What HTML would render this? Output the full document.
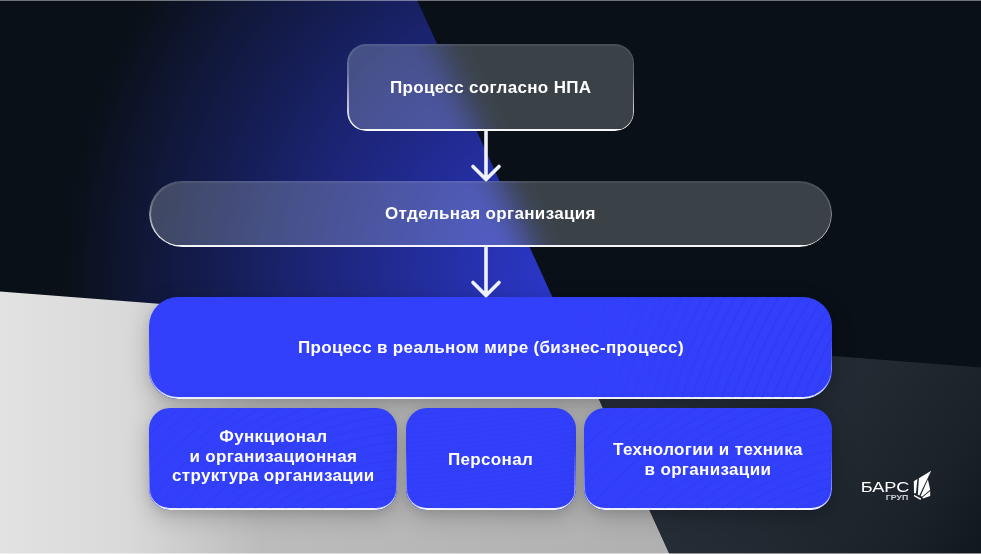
<!DOCTYPE html>
<html lang="ru">
<head>
<meta charset="utf-8">
<title>Процесс</title>
<style>
html,body{margin:0;padding:0;background:#0a1017;}
body{width:981px;height:554px;overflow:hidden;position:relative;font-family:"Liberation Sans",sans-serif;}
#bg{position:absolute;left:0;top:0;width:981px;height:554px;display:block;}
.box{position:absolute;box-sizing:border-box;display:flex;align-items:center;justify-content:center;text-align:center;color:#fff;font-weight:bold;font-size:17px;line-height:19.6px;letter-spacing:0.34px;}
.glass{background:none;}
.glass::after{content:"";position:absolute;inset:0;border-radius:inherit;padding:1.5px;background:linear-gradient(180deg,rgba(255,255,255,0.06) 0%,rgba(255,255,255,0.22) 35%,rgba(255,255,255,0.6) 65%,rgba(255,255,255,0.97) 100%);-webkit-mask:linear-gradient(#000 0 0) content-box,linear-gradient(#000 0 0);-webkit-mask-composite:xor;mask:linear-gradient(#000 0 0) content-box exclude,linear-gradient(#000 0 0);pointer-events:none;}
.blue{background:#3340fb;box-shadow:0 8px 24px rgba(0,0,0,0.18),0 3px 8px rgba(0,0,0,0.09);overflow:hidden;}
.blue::after{content:"";position:absolute;inset:0;border-radius:inherit;padding:1.2px 1.2px 1.9px 1.2px;background:linear-gradient(180deg,rgba(255,255,255,0) 0%,rgba(255,255,255,0) 40%,rgba(255,255,255,0.35) 75%,rgba(255,255,255,0.95) 100%);-webkit-mask:linear-gradient(#000 0 0) content-box,linear-gradient(#000 0 0);-webkit-mask-composite:xor;mask:linear-gradient(#000 0 0) content-box exclude,linear-gradient(#000 0 0);pointer-events:none;}
.pat{position:absolute;left:0;top:0;z-index:1;}
.box span{position:relative;z-index:2;display:block;will-change:transform;}
#b1{left:347px;top:44px;width:287px;height:86.8px;border-radius:19px;padding-top:1.6px;}
#b2{left:149px;top:181px;width:683px;height:65.5px;border-radius:33px;}
#b3{left:149px;top:296.8px;width:683px;height:102px;border-radius:29px;}
#b4{left:149px;top:408px;width:248px;height:102px;border-radius:21px;padding-bottom:5.4px;}
#b5{left:405.5px;top:408px;width:170px;height:102px;border-radius:21px;padding-top:2px;}
#b6{left:584px;top:408px;width:248px;height:102px;border-radius:21px;padding-top:1.6px;}
#arrows{position:absolute;left:0;top:0;width:981px;height:554px;pointer-events:none;will-change:transform;}
#logo{position:absolute;left:0;top:0;width:981px;height:554px;pointer-events:none;will-change:transform;}
</style>
</head>
<body>
<svg id="bg" width="981" height="554" viewBox="0 0 981 554">
  <defs>
    <radialGradient id="gBlue" gradientUnits="userSpaceOnUse" cx="580" cy="280" r="520">
      <stop offset="0.0000" stop-color="#2d39d1"/>
      <stop offset="0.0769" stop-color="#2a36c4"/>
      <stop offset="0.1538" stop-color="#2833b7"/>
      <stop offset="0.2308" stop-color="#2530aa"/>
      <stop offset="0.3077" stop-color="#232d9c"/>
      <stop offset="0.3846" stop-color="#202a8e"/>
      <stop offset="0.4615" stop-color="#1e2780"/>
      <stop offset="0.5385" stop-color="#1b2472"/>
      <stop offset="0.6154" stop-color="#182163"/>
      <stop offset="0.6923" stop-color="#151d54"/>
      <stop offset="0.7692" stop-color="#131a45"/>
      <stop offset="0.8462" stop-color="#101736"/>
      <stop offset="0.9231" stop-color="#0d1326"/>
      <stop offset="0.9615" stop-color="#0b121e"/>
      <stop offset="0.9942" stop-color="#0a1017"/>
      <stop offset="1.0000" stop-color="#0a1017"/>
    </radialGradient>
    <linearGradient id="gGrey" gradientUnits="userSpaceOnUse" x1="0" y1="0" x2="670" y2="0">
      <stop offset="0" stop-color="#e2e2e2"/>
      <stop offset="0.19" stop-color="#d9d9d9"/>
      <stop offset="0.39" stop-color="#bcbcbc"/>
      <stop offset="1" stop-color="#b0b0b0"/>
    </linearGradient>
    <linearGradient id="gDark" gradientUnits="userSpaceOnUse" x1="680" y1="360" x2="981" y2="554">
      <stop offset="0" stop-color="#28303a"/>
      <stop offset="0.5" stop-color="#212931"/>
      <stop offset="0.8" stop-color="#1a2129"/>
      <stop offset="1" stop-color="#11171e"/>
    </linearGradient>
    <filter id="fBlur" filterUnits="userSpaceOnUse" x="0" y="0" width="981" height="554" color-interpolation-filters="sRGB">
      <feGaussianBlur stdDeviation="16"/>
    </filter>
    <clipPath id="cpGlass">
      <rect x="347" y="44" width="287" height="86.8" rx="19" ry="19"/>
      <rect x="149" y="181" width="683" height="65.5" rx="32.75" ry="32.75"/>
    </clipPath>
  </defs>
  <g id="scene">
  <rect x="0" y="0" width="981" height="554" fill="#0a1017"/>
  <polygon points="0,0 417,0 570,335.7 0,291.4" fill="url(#gBlue)"/>
  <polygon points="0,291.4 570,335.7 669.5,554 0,554" fill="url(#gGrey)"/>
  <polygon points="570,335.7 981,367.6 981,554 669.5,554" fill="url(#gDark)"/>
  </g>
  <g clip-path="url(#cpGlass)">
    <use href="#scene" filter="url(#fBlur)"/>
    <rect x="140" y="40" width="700" height="210" fill="#f3feff" fill-opacity="0.21"/>
  </g>
  <rect x="0" y="0" width="981" height="1" fill="#fff" opacity="0.42"/>
  <rect x="0" y="553" width="981" height="1" fill="#fff" opacity="0.5"/>
</svg>

<div class="box glass" id="b1"><span>Процесс согласно НПА</span></div>
<div class="box glass" id="b2"><span>Отдельная организация</span></div>
<div class="box blue" id="b3"><svg class="pat" width="683" height="101" viewBox="0 0 683 101"><defs><linearGradient id="fd3" gradientUnits="userSpaceOnUse" x1="380" y1="0" x2="600" y2="0"><stop offset="0" stop-color="#fff" stop-opacity="0"/><stop offset="1" stop-color="#fff" stop-opacity="1"/></linearGradient><mask id="mk3"><rect width="683" height="101" fill="url(#fd3)"/></mask></defs><g fill="none" stroke="#1a22b8" stroke-opacity="0.15" stroke-width="1.3" mask="url(#mk3)"><circle cx="1112" cy="286" r="380"/><circle cx="1112" cy="286" r="389.5"/><circle cx="1112" cy="286" r="399"/><circle cx="1112" cy="286" r="408.5"/><circle cx="1112" cy="286" r="418"/><circle cx="1112" cy="286" r="427.5"/><circle cx="1112" cy="286" r="437"/><circle cx="1112" cy="286" r="446.5"/><circle cx="1112" cy="286" r="456"/><circle cx="1112" cy="286" r="465.5"/><circle cx="1112" cy="286" r="475"/><circle cx="1112" cy="286" r="484.5"/><circle cx="1112" cy="286" r="494"/><circle cx="1112" cy="286" r="503.5"/><circle cx="1112" cy="286" r="513"/><circle cx="1112" cy="286" r="522.5"/><circle cx="1112" cy="286" r="532"/><circle cx="1112" cy="286" r="541.5"/><circle cx="1112" cy="286" r="551"/><circle cx="1112" cy="286" r="560.5"/><circle cx="1112" cy="286" r="570"/><circle cx="1112" cy="286" r="579.5"/><circle cx="1112" cy="286" r="589"/><circle cx="1112" cy="286" r="598.5"/><circle cx="1112" cy="286" r="608"/><circle cx="1112" cy="286" r="617.5"/><circle cx="1112" cy="286" r="627"/><circle cx="1112" cy="286" r="636.5"/><circle cx="1112" cy="286" r="646"/><circle cx="1112" cy="286" r="655.5"/><circle cx="1112" cy="286" r="665"/><circle cx="1112" cy="286" r="674.5"/><circle cx="1112" cy="286" r="684"/><circle cx="1112" cy="286" r="693.5"/><circle cx="1112" cy="286" r="703"/><circle cx="1112" cy="286" r="712.5"/><circle cx="1112" cy="286" r="722"/><circle cx="1112" cy="286" r="731.5"/><circle cx="1112" cy="286" r="741"/><circle cx="1112" cy="286" r="750.5"/><circle cx="1112" cy="286" r="760"/></g></svg><span>Процесс в реальном мире (бизнес-процесс)</span></div>
<div class="box blue" id="b4"><svg class="pat" width="248" height="101" viewBox="0 0 248 101"><g fill="none" stroke="#1a22b8" stroke-opacity="0.13" stroke-width="1"><circle cx="270" cy="300" r="150"/><circle cx="270" cy="300" r="159"/><circle cx="270" cy="300" r="168"/><circle cx="270" cy="300" r="177"/><circle cx="270" cy="300" r="186"/><circle cx="270" cy="300" r="195"/><circle cx="270" cy="300" r="204"/><circle cx="270" cy="300" r="213"/><circle cx="270" cy="300" r="222"/><circle cx="270" cy="300" r="231"/><circle cx="270" cy="300" r="240"/><circle cx="270" cy="300" r="249"/><circle cx="270" cy="300" r="258"/><circle cx="270" cy="300" r="267"/><circle cx="270" cy="300" r="276"/><circle cx="270" cy="300" r="285"/><circle cx="270" cy="300" r="294"/><circle cx="270" cy="300" r="303"/><circle cx="270" cy="300" r="312"/><circle cx="270" cy="300" r="321"/><circle cx="270" cy="300" r="330"/><circle cx="270" cy="300" r="339"/><circle cx="270" cy="300" r="348"/><circle cx="270" cy="300" r="357"/><circle cx="270" cy="300" r="366"/><circle cx="270" cy="300" r="375"/><circle cx="270" cy="300" r="384"/><circle cx="270" cy="300" r="393"/><circle cx="270" cy="300" r="402"/><circle cx="270" cy="300" r="411"/><circle cx="270" cy="300" r="420"/><circle cx="270" cy="300" r="429"/></g></svg><span>Функционал<br>и организационная<br>структура организации</span></div>
<div class="box blue" id="b5"><svg class="pat" width="170" height="101" viewBox="0 0 170 101"><g fill="none" stroke="#1a22b8" stroke-opacity="0.07" stroke-width="1"><circle cx="-60" cy="-1200" r="1190"/><circle cx="-60" cy="-1200" r="1194.6"/><circle cx="-60" cy="-1200" r="1199.2"/><circle cx="-60" cy="-1200" r="1203.8"/><circle cx="-60" cy="-1200" r="1208.4"/><circle cx="-60" cy="-1200" r="1213"/><circle cx="-60" cy="-1200" r="1217.6"/><circle cx="-60" cy="-1200" r="1222.2"/><circle cx="-60" cy="-1200" r="1226.8"/><circle cx="-60" cy="-1200" r="1231.4"/><circle cx="-60" cy="-1200" r="1236"/><circle cx="-60" cy="-1200" r="1240.6"/><circle cx="-60" cy="-1200" r="1245.2"/><circle cx="-60" cy="-1200" r="1249.8"/><circle cx="-60" cy="-1200" r="1254.4"/><circle cx="-60" cy="-1200" r="1259"/><circle cx="-60" cy="-1200" r="1263.6"/><circle cx="-60" cy="-1200" r="1268.2"/><circle cx="-60" cy="-1200" r="1272.8"/><circle cx="-60" cy="-1200" r="1277.4"/><circle cx="-60" cy="-1200" r="1282"/><circle cx="-60" cy="-1200" r="1286.6"/><circle cx="-60" cy="-1200" r="1291.2"/><circle cx="-60" cy="-1200" r="1295.8"/><circle cx="-60" cy="-1200" r="1300.4"/><circle cx="-60" cy="-1200" r="1305"/><circle cx="-60" cy="-1200" r="1309.6"/><circle cx="-60" cy="-1200" r="1314.2"/><circle cx="-60" cy="-1200" r="1318.8"/><circle cx="-60" cy="-1200" r="1323.4"/><circle cx="-60" cy="-1200" r="1328"/></g></svg><span>Персонал</span></div>
<div class="box blue" id="b6"><svg class="pat" width="248" height="101" viewBox="0 0 248 101"><g fill="none" stroke="#1a22b8" stroke-opacity="0.13" stroke-width="1"><circle cx="330" cy="380" r="240"/><circle cx="330" cy="380" r="249"/><circle cx="330" cy="380" r="258"/><circle cx="330" cy="380" r="267"/><circle cx="330" cy="380" r="276"/><circle cx="330" cy="380" r="285"/><circle cx="330" cy="380" r="294"/><circle cx="330" cy="380" r="303"/><circle cx="330" cy="380" r="312"/><circle cx="330" cy="380" r="321"/><circle cx="330" cy="380" r="330"/><circle cx="330" cy="380" r="339"/><circle cx="330" cy="380" r="348"/><circle cx="330" cy="380" r="357"/><circle cx="330" cy="380" r="366"/><circle cx="330" cy="380" r="375"/><circle cx="330" cy="380" r="384"/><circle cx="330" cy="380" r="393"/><circle cx="330" cy="380" r="402"/><circle cx="330" cy="380" r="411"/><circle cx="330" cy="380" r="420"/><circle cx="330" cy="380" r="429"/><circle cx="330" cy="380" r="438"/><circle cx="330" cy="380" r="447"/><circle cx="330" cy="380" r="456"/><circle cx="330" cy="380" r="465"/><circle cx="330" cy="380" r="474"/><circle cx="330" cy="380" r="483"/><circle cx="330" cy="380" r="492"/><circle cx="330" cy="380" r="501"/><circle cx="330" cy="380" r="510"/><circle cx="330" cy="380" r="519"/></g></svg><span>Технологии и техника<br>в организации</span></div>

<svg id="arrows" width="981" height="554" viewBox="0 0 981 554">
  <g fill="none" stroke="#eef1fa" stroke-width="3.6" stroke-linecap="round" stroke-linejoin="round">
    <path d="M486 131.5 V179.5 M473 166.5 L486 179.5 L499 166.5"/>
    <path d="M486 247.5 V295.5 M473 282.5 L486 295.5 L499 282.5"/>
  </g>
</svg>

<svg id="logo" width="981" height="554" viewBox="0 0 981 554">
  <text transform="translate(860.7 491.7) scale(1.245 1)" font-family="Liberation Sans, sans-serif" font-size="14.6" fill="#fff">БАРС</text>
  <text transform="translate(885.8 500) scale(1.27 1)" font-family="Liberation Sans, sans-serif" font-size="6.9" font-weight="bold" fill="#d2d4d6">ГРУП</text>
  <g fill="#fff">
    <polygon points="913.8,481.3 917.4,479 916,493 914,493.5"/>
    <polygon points="918.9,478.2 931.2,470.8 919.3,495.6 917.8,494.8"/>
    <polygon points="927.9,479.6 930.2,489.7 922,496.8 920.7,495.8"/>
    <polygon points="930.2,490.9 930.2,496 923,498.6 922.4,497.5"/>
    <polygon points="914,494.7 921.1,498.4 920.5,500 914,496.3"/>
  </g>
</svg>
</body>
</html>
